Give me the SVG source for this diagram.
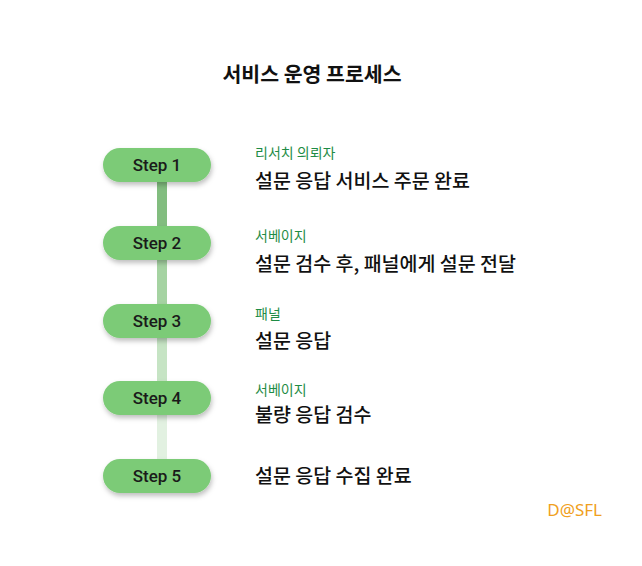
<svg xmlns="http://www.w3.org/2000/svg" width="642" height="566" viewBox="0 0 642 566">
<defs>
<style>
.pill{fill:#7ccb77;}
.st{font-family:Roboto,"Noto Sans",sans-serif;font-weight:500;font-size:17px;fill:#1a1a1a;text-anchor:middle;}
.lab{font-family:"Noto Sans CJK KR",sans-serif;font-size:14px;fill:#1e8c45;}
.main{font-family:"Noto Sans CJK KR",sans-serif;font-size:19.5px;font-weight:500;fill:#111;}
</style>
<filter id="sh" x="-20%" y="-30%" width="140%" height="180%"><feDropShadow dx="1" dy="3" stdDeviation="2.5" flood-color="#000" flood-opacity="0.25"/></filter>
</defs>
<rect width="642" height="566" fill="#fff"/>
<text x="312" y="82" text-anchor="middle" style="font-family:'Noto Sans CJK KR',sans-serif;font-size:20.5px;font-weight:bold;fill:#111">서비스 운영 프로세스</text>
<g id="connectors">
<rect x="157" y="182" width="10" height="46" fill="#82bd7f"/>
<rect x="157" y="260" width="10" height="46" fill="#a5d3a2"/>
<rect x="157" y="338" width="10" height="46" fill="#c6e4c4"/>
<rect x="157" y="415" width="10" height="46" fill="#e2f1e1"/>
</g>
<g id="step1"><rect class="pill" x="103" y="148" width="108" height="34" rx="17" filter="url(#sh)"/><text class="st" x="157" y="171">Step 1</text>
<text class="lab" x="255" y="158">리서치 의뢰자</text><text class="main" x="255" y="188">설문 응답 서비스 주문 완료</text></g>
<g id="step2"><rect class="pill" x="103" y="226" width="108" height="34" rx="17" filter="url(#sh)"/><text class="st" x="157" y="249">Step 2</text>
<text class="lab" x="255" y="241">서베이지</text><text class="main" x="255" y="271">설문 검수 후, 패널에게 설문 전달</text></g>
<g id="step3"><rect class="pill" x="103" y="304" width="108" height="34" rx="17" filter="url(#sh)"/><text class="st" x="157" y="327">Step 3</text>
<text class="lab" x="255" y="319">패널</text><text class="main" x="255" y="348">설문 응답</text></g>
<g id="step4"><rect class="pill" x="103" y="381" width="108" height="34" rx="17" filter="url(#sh)"/><text class="st" x="157" y="404">Step 4</text>
<text class="lab" x="255" y="395">서베이지</text><text class="main" x="255" y="422">불량 응답 검수</text></g>
<g id="step5"><rect class="pill" x="103" y="459" width="108" height="34" rx="17" filter="url(#sh)"/><text class="st" x="157" y="482">Step 5</text>
<text class="main" x="255" y="483">설문 응답 수집 완료</text></g>
<text x="602" y="516" text-anchor="end" style="font-family:'Noto Sans',sans-serif;font-size:17px;fill:#f0a020">D@SFL</text>
</svg>
